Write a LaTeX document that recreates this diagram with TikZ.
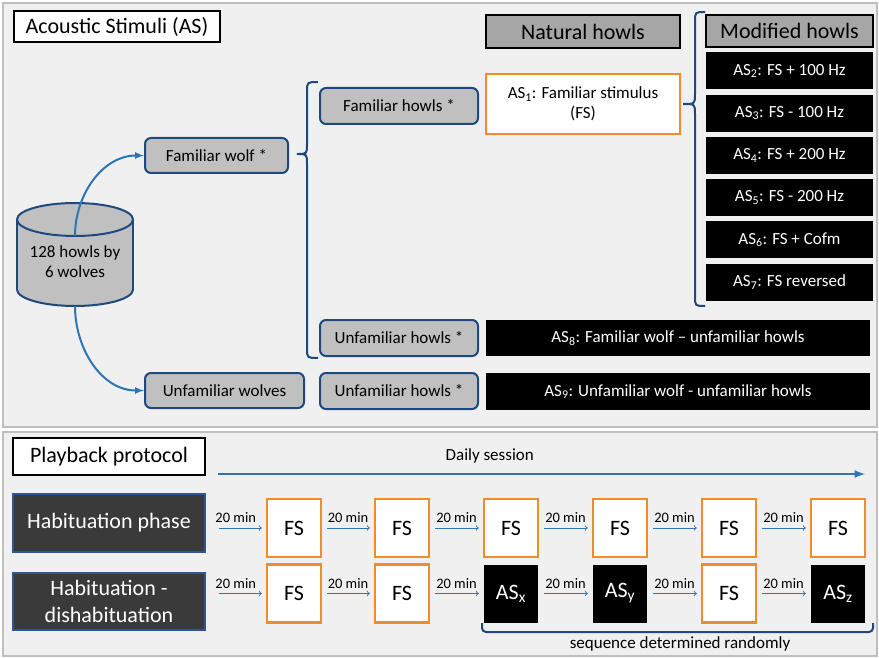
\documentclass[tikz,border=0pt]{standalone}
\usepackage{fontspec}
\setmainfont{Carlito}
\usetikzlibrary{shapes.geometric, arrows, positioning, calc}
\definecolor{panelbg}{HTML}{F0F0F0}
\definecolor{panelline}{HTML}{BFBFBF}
\definecolor{boxgray}{HTML}{C0C0C0}
\definecolor{headgray}{HTML}{A6A6A6}
\definecolor{wolfblue}{HTML}{1F497D}
\definecolor{linkblue}{HTML}{2E75B6}
\definecolor{fsorange}{HTML}{F28C28}
\definecolor{phasegray}{HTML}{3A3A3A}
\definecolor{phaseblue}{HTML}{2F5597}
\tikzset{
  panel/.style={draw=panelline,line width=2,fill=panelbg},
  heading/.style={rectangle,draw=black,line width=2.5,fill=white,font=\fontsize{22}{24}\selectfont,inner sep=0},
  howlhead/.style={heading,fill=headgray},
  dbshape/.style={draw=wolfblue,line width=2,fill=boxgray},
  groupbox/.style={rectangle,rounded corners=6,draw=wolfblue,line width=2,fill=boxgray,inner sep=0},
  stimulus/.style={rectangle,draw=fsorange,line width=2.5,fill=white,inner sep=0},
  modified/.style={rectangle,fill=black,text=white,minimum width=167,minimum height=37,inner sep=0},
  phasebox/.style={rectangle,draw=phaseblue,line width=1.5,fill=phasegray,text=white,font=\fontsize{22}{27}\selectfont,minimum width=192,align=center,inner sep=0},
  fsbox/.style={stimulus,minimum width=54,minimum height=58,font=\fontsize{22}{24}\selectfont},
  asbox/.style={fsbox,draw=none,fill=black,text=white},
  linkarrow/.style={-latex,linkblue,line width=2},
  waitarrow/.style={->,linkblue,line width=1,shorten >=4pt,shorten <=5pt},
  waitlabel/.style={above,text=black,font=\fontsize{14.5}{16}\selectfont,inner sep=4.5},
  bracket/.style={wolfblue,line width=2},
}

\begin{document}
\begin{tikzpicture}[x=1pt,y=-1pt,font=\fontsize{17}{20}\selectfont]
    \useasboundingbox (0,0) rectangle (879,658);
    \draw[panel] (3,3) rectangle (877,427);
    \draw[panel] (3,432) rectangle (877,656);

    % acoustic stimuli
    \node[heading,minimum width=206,minimum height=31] (astitle) at (117,26.5) {Acoustic Stimuli (AS)};
    \node[howlhead,minimum width=194,minimum height=33] (natural) at (583,31.5) {Natural howls};
    \node[howlhead,minimum width=167,minimum height=32] (modhead) at (789.5,31) {Modified howls};

    % the howl database, drawn as a cylinder
    \draw[dbshape] (75,289.5) ellipse[x radius=58pt,y radius=16.5pt];
    \fill[boxgray] (17,219.5) rectangle (133,289.5);
    \draw[wolfblue,line width=2] (17,219.5) -- (17,289.5) (133,219.5) -- (133,289.5);
    \draw[dbshape] (75,219.5) ellipse[x radius=58pt,y radius=16.5pt];
    \node[align=center] (db) at (75,262) {128 howls by\\6 wolves};
    \coordinate (dbneck) at (75,236);
    \coordinate (dbbase) at (75,306);

    \node[groupbox,minimum width=143,minimum height=35] (fwolf) at (216.5,155.5) {Familiar wolf *};
    \node[groupbox,minimum width=159,minimum height=35] (uwolves) at (224.5,390.5) {Unfamiliar wolves};
    \node[groupbox,minimum width=158,minimum height=36] (fhowls) at (399,106) {Familiar howls *};
    \node[groupbox,minimum width=158,minimum height=36] (uhowlsa) at (399,338) {Unfamiliar howls *};
    \node[groupbox,minimum width=158,minimum height=36] (uhowlsb) at (399,391) {Unfamiliar howls *};
    \node[stimulus,minimum width=194,minimum height=60,align=center] (as1) at (583,104) {AS\textsubscript{1}: Familiar stimulus\\(FS)};
    \node[modified] (as2) at (789.5,71) {AS\textsubscript{2}: FS + 100 Hz};
    \node[modified,below=4.8pt of as2] (as3) {AS\textsubscript{3}: FS - 100 Hz};
    \node[modified,below=4.8pt of as3] (as4) {AS\textsubscript{4}: FS + 200 Hz};
    \node[modified,below=4.8pt of as4] (as5) {AS\textsubscript{5}: FS - 200 Hz};
    \node[modified,below=4.8pt of as5] (as6) {AS\textsubscript{6}: FS + Cofm};
    \node[modified,below=4.8pt of as6] (as7) {AS\textsubscript{7}: FS reversed};
    \node[modified,minimum width=384,minimum height=36] (as8) at (678,338) {AS\textsubscript{8}: Familiar wolf – unfamiliar howls};
    \node[modified,minimum width=384,minimum height=37] (as9) at (678,391.5) {AS\textsubscript{9}: Unfamiliar wolf - unfamiliar howls};

    \draw[linkarrow] (dbneck) to[out=90,in=180] (fwolf.west);
    \draw[linkarrow] (dbbase) to[out=-90,in=180] (uwolves.west);
    \draw[bracket] (318,82) .. controls (307,82) .. (307,92) -- (307,144)
        .. controls (307,154) .. (297,154) .. controls (307,154) .. (307,164)
        -- (307,348) .. controls (307,358) .. (318,358);
    \draw[bracket] (705,12) .. controls (695,12) .. (695,22) -- (695,94)
        .. controls (695,104) .. (683,104) .. controls (695,104) .. (695,114)
        -- (695,296) .. controls (695,306) .. (705,306);

    % playback protocol
    \node[heading,minimum width=192,minimum height=37] (pbtitle) at (109,456.5) {Playback protocol};
    \coordinate (daystart) at (218,474);
    \coordinate (dayend) at (865,474);
    \draw[linkarrow,line width=2.5] (daystart) -- node[pos=0.42,above=6pt,text=black] (daily) {Daily session} (dayend);

    \node[phasebox,minimum height=58] (hab) at (109,523) {Habituation phase};
    \node[phasebox,minimum height=57] (dishab) at (109,601.5) {Habituation -\\dishabituation};

    \node[fsbox] (h1) at (294,528) {FS};
    \node[fsbox] (h2) at (402,528) {FS};
    \node[fsbox] (h3) at (511,528) {FS};
    \node[fsbox] (h4) at (620,528) {FS};
    \node[fsbox] (h5) at (729,528) {FS};
    \node[fsbox] (h6) at (838,528) {FS};
    \node[fsbox] (d1) at (294,593.5) {FS};
    \node[fsbox] (d2) at (402,593.5) {FS};
    \node[asbox] (d3) at (511,593.5) {AS\textsubscript{x}};
    \node[asbox] (d4) at (620,593.5) {AS\textsubscript{y}};
    \node[fsbox] (d5) at (729,593.5) {FS};
    \node[asbox] (d6) at (838,593.5) {AS\textsubscript{z}};

    \draw[waitarrow,shorten <=13pt] (hab.east |- h1.west) -- node[waitlabel] (hw1) {20 min} (h1.west);
    \draw[waitarrow] (h1) -- node[waitlabel] (hw2) {20 min} (h2);
    \draw[waitarrow] (h2) -- node[waitlabel] (hw3) {20 min} (h3);
    \draw[waitarrow] (h3) -- node[waitlabel] (hw4) {20 min} (h4);
    \draw[waitarrow] (h4) -- node[waitlabel] (hw5) {20 min} (h5);
    \draw[waitarrow] (h5) -- node[waitlabel] (hw6) {20 min} (h6);
    \draw[waitarrow,shorten <=13pt] (dishab.east |- d1.west) -- node[waitlabel] (dw1) {20 min} (d1.west);
    \draw[waitarrow] (d1) -- node[waitlabel] (dw2) {20 min} (d2);
    \draw[waitarrow] (d2) -- node[waitlabel] (dw3) {20 min} (d3);
    \draw[waitarrow] (d3) -- node[waitlabel] (dw4) {20 min} (d4);
    \draw[waitarrow] (d4) -- node[waitlabel] (dw5) {20 min} (d5);
    \draw[waitarrow] (d5) -- node[waitlabel] (dw6) {20 min} (d6);

    \draw[bracket,rounded corners=4] (482,623) -- (482,632) -- (873,632) -- (873,623);
    \node (seqtext) at (680,644) {sequence determined randomly};
\end{tikzpicture}
\end{document}
